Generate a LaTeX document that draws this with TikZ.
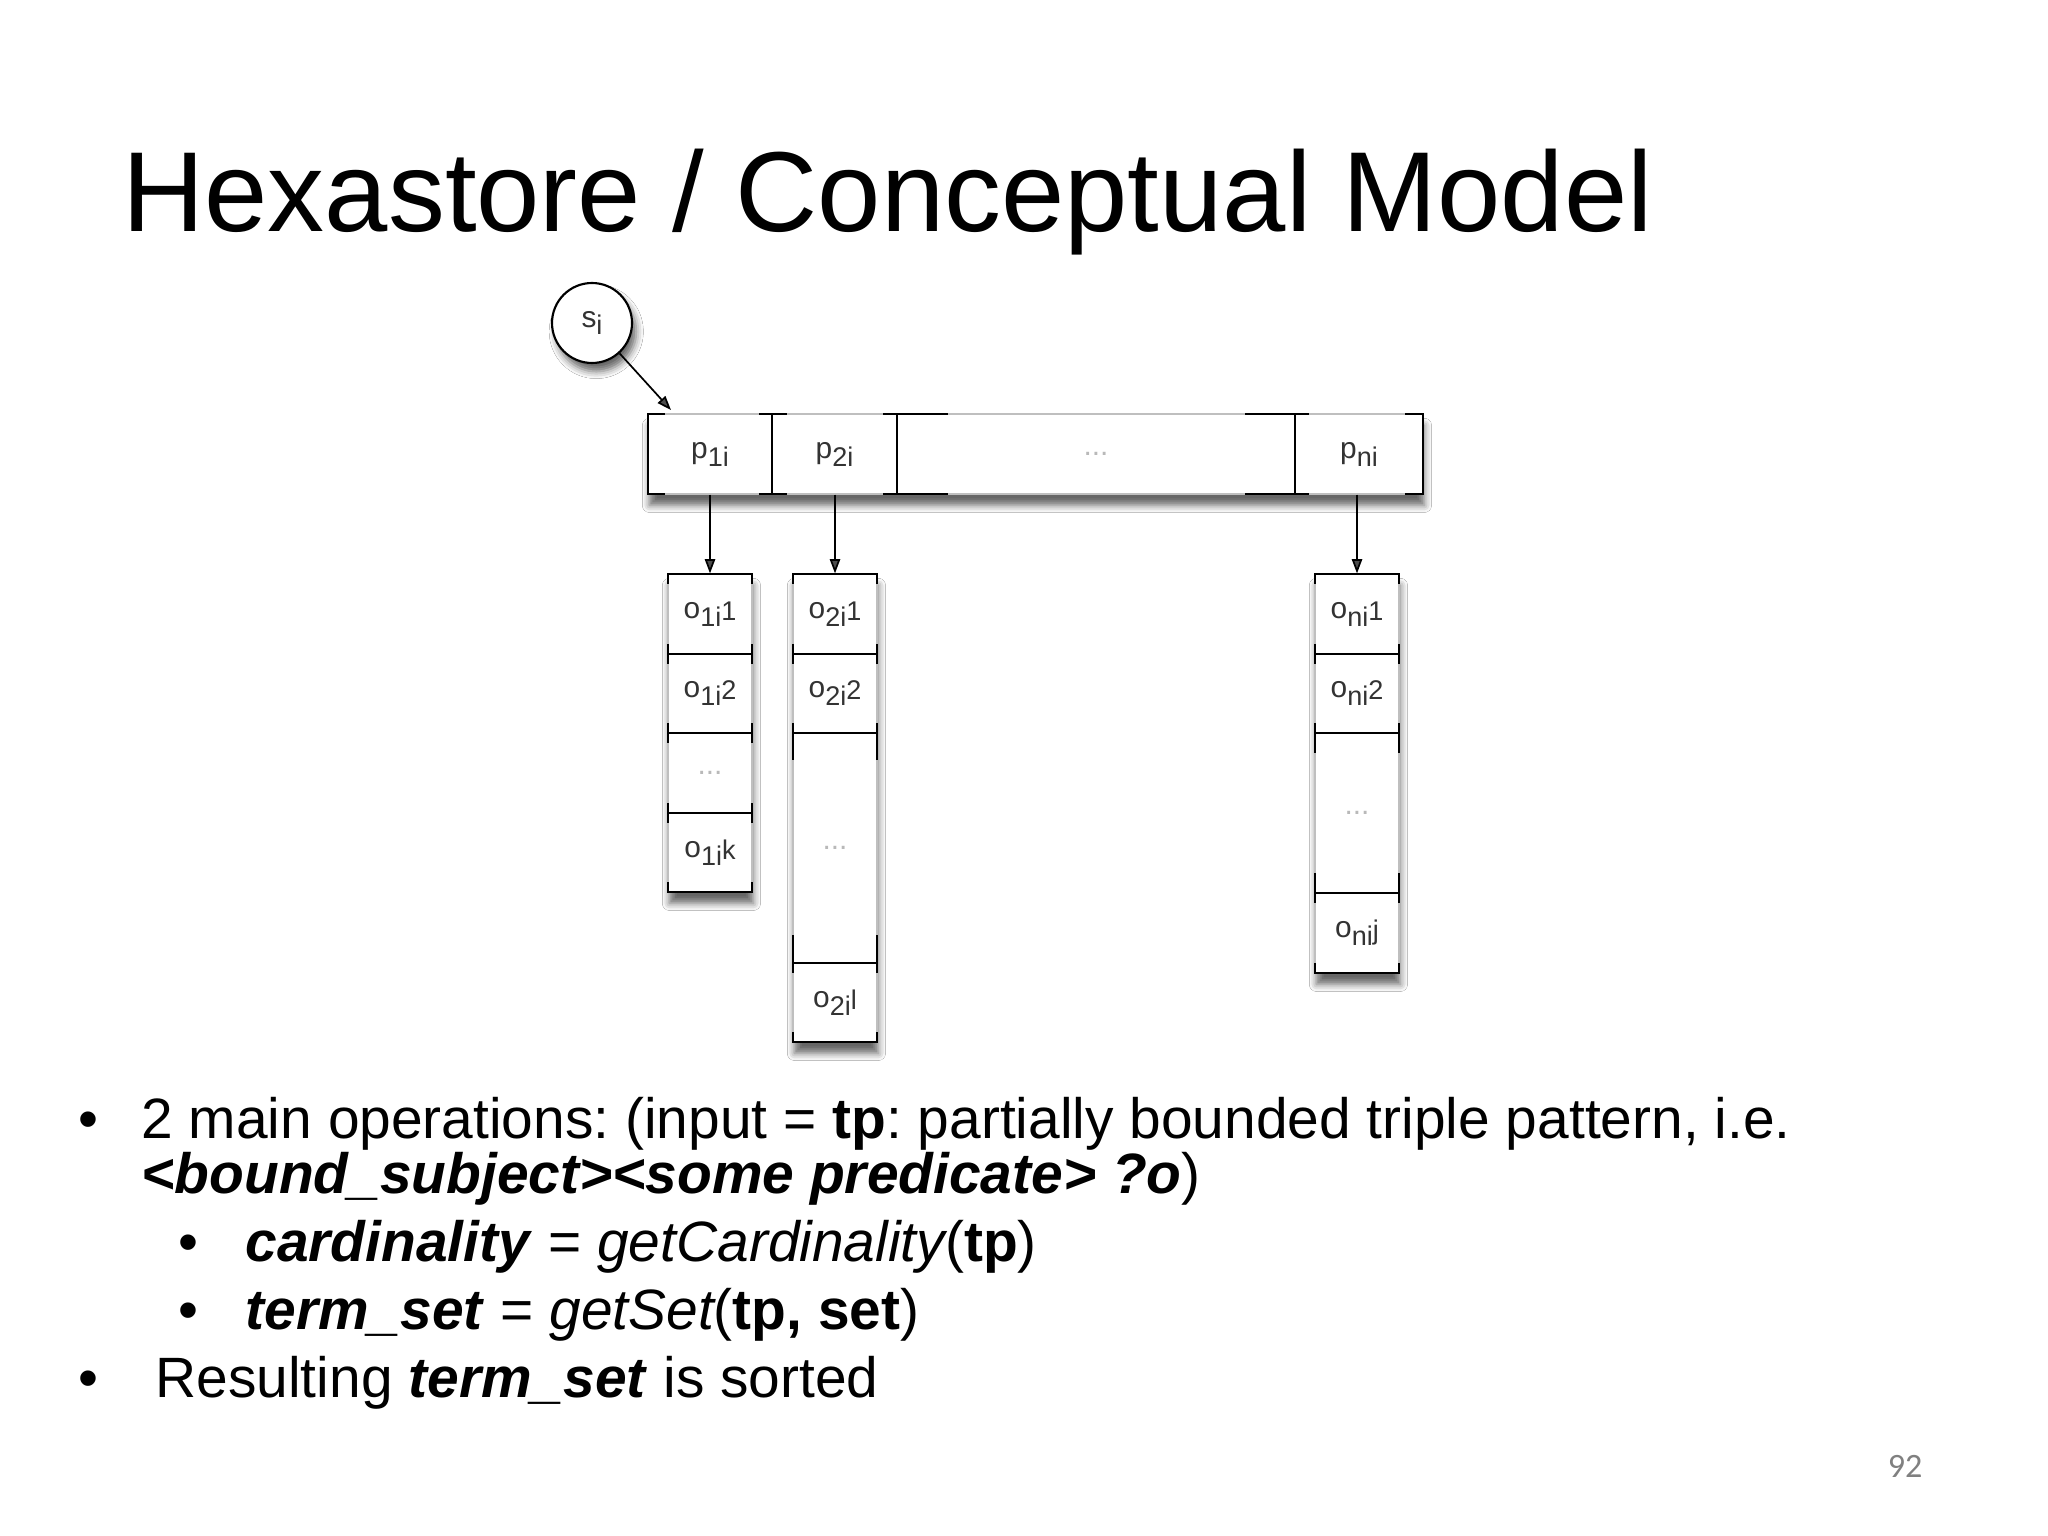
\documentclass[tikz,border=0pt]{standalone}
\usepackage{fontspec}
\setmainfont{Liberation Sans}
\newfontfamily\pagenumfont{Carlito}
\usetikzlibrary{arrows.meta,shadows.blur}

% one pixel of the 2048x1536 slide
\newcommand{\px}{0.3515625pt}
% cell label: letter, lowered index, raised index
\newcommand{\lbl}[3]{#1\raisebox{-2.8pt}{\fontsize{9.5}{10}\selectfont #2}\raisebox{-0.7pt}{\fontsize{9.5}{10}\selectfont #3}}

\tikzset{
  cell/.style={draw=gray!50, inner sep=0pt, text=black!80,
    font=\fontsize{10.5}{12}\selectfont},
  shadowed/.style={fill=white, blur shadow={shadow xshift=0.5pt,
    shadow yshift=-4pt, shadow blur radius=2.5pt, shadow opacity=60}},
  tick/.style={line width=0.75pt},
  arr/.style={-{Triangle[length=5pt,width=3.6pt]}, line width=0.6pt},
  dots/.style={text=gray!55},
  bodytext/.style={anchor=base west, inner sep=0pt,
    font=\fontsize{20}{24}\selectfont},
  bullet/.style={anchor=base, inner sep=0pt,
    font=\fontsize{20}{24}\selectfont}
}

\begin{document}
\frenchspacing
\begin{tikzpicture}[x=0.3515625pt, y=-0.3515625pt]
\fill[white] (0,0) rectangle (2048,1536);
\useasboundingbox (0,0) rectangle (2048,1536);

% title
\node[anchor=base west, inner sep=0pt, font=\fontsize{40}{48}\selectfont]
  (title) at (122,232) {Hexastore / Conceptual Model};

% subject
\node[circle, draw, line width=0.75pt, fill=white, text=black!80,
  minimum size=80*\px, inner sep=0pt, font=\fontsize{10.5}{12}\selectfont,
  blur shadow={shadow xshift=1.5pt, shadow yshift=-3pt, shadow blur radius=2.5pt, shadow opacity=60}]
  (si) at (592,323) {\lbl{s}{i}{}};
\coordinate (sitip) at (671,410);

% predicate row
\path[shadowed] (648,414) rectangle (1423,494);
\node[cell, minimum width=124*\px, minimum height=80*\px] (p1) at (710,454) {\lbl{p}{1i}{}};
\node[cell, minimum width=125*\px, minimum height=80*\px] (p2) at (834.5,454) {\lbl{p}{2i}{}};
\node[cell, dots, minimum width=398*\px, minimum height=80*\px] (pd) at (1096,454) {...};
\node[cell, minimum width=128*\px, minimum height=80*\px] (pn) at (1359,454) {\lbl{p}{ni}{}};

\draw[tick] (665,414) -| (648,494) -- (665,494);
\draw[tick] (1405,414) -| (1423,494) -- (1405,494);
\foreach \x/\l/\r in {772/13/15, 897/14/51, 1295/50/14} {
  \draw[tick] (\x,414) -- (\x,494);
  \draw[tick] (\x-\l,414) -- (\x+\r,414);
  \draw[tick] (\x-\l,494) -- (\x+\r,494);
}

% object lists
\path[shadowed] (668,574) rectangle (752,892);
\path[shadowed] (793,574) rectangle (877,1042);
\path[shadowed] (1315,574) rectangle (1399,973);

\foreach \n/\y/\h/\t in {o1a/614/80/{\lbl{o}{1i}{1}},
                         o1b/693.5/79/{\lbl{o}{1i}{2}},
                         o1c/773/80/{\textcolor{gray!55}{...}},
                         o1d/852.5/79/{\lbl{o}{1i}{k}}}
  \node[cell, minimum width=84*\px, minimum height=\h*\px] (\n) at (710,\y) {\t};

\foreach \n/\y/\h/\t in {o2a/614/80/{\lbl{o}{2i}{1}},
                         o2b/693.5/79/{\lbl{o}{2i}{2}},
                         o2c/848/230/{\textcolor{gray!55}{...}},
                         o2d/1002.5/79/{\lbl{o}{2i}{l}}}
  \node[cell, minimum width=84*\px, minimum height=\h*\px] (\n) at (835,\y) {\t};

\foreach \n/\y/\h/\t in {ona/614/80/{\lbl{o}{ni}{1}},
                         onb/693.5/79/{\lbl{o}{ni}{2}},
                         onc/813/160/{\textcolor{gray!55}{...}},
                         ond/933/80/{\lbl{o}{ni}{j}}}
  \node[cell, minimum width=84*\px, minimum height=\h*\px] (\n) at (1357,\y) {\t};

% column brackets: left/right/top/bottom, then dividers y/up/down
\foreach \L/\R/\T/\B/\divs in {668/752/574/892/{654/10/10,733/10/10,813/10/10},
                               793/877/574/1042/{654/10/10,733/10/27,963/28/10},
                               1315/1399/574/973/{654/10/10,733/10/20,893/20/10}} {
  \draw[tick] (\L,\T+10) -- (\L,\T) -- (\R,\T) -- (\R,\T+10);
  \draw[tick] (\L,\B-10) -- (\L,\B) -- (\R,\B) -- (\R,\B-10);
  \foreach \y/\a/\b in \divs {
    \draw[tick] (\L,\y) -- (\R,\y);
    \draw[tick] (\L,\y-\a) -- (\L,\y+\b);
    \draw[tick] (\R,\y-\a) -- (\R,\y+\b);
  }
}

% pointers
\draw[arr] (si) -- (sitip);
\draw[arr] (o1a.north |- p1.south) -- (o1a.north);
\draw[arr] (o2a.north |- p2.south) -- (o2a.north);
\draw[arr] (ona.north |- pn.south) -- (ona.north);

% bullets
\node[bullet] (b1) at (88,1138) {•};
\node[bodytext] (l1) at (141,1138) {2 main operations: (input = \textbf{tp}: partially bounded triple pattern, i.e.};
\node[bodytext] (l2) at (141,1193) {\textbf{\textit{<bound\_subject><some predicate> ?o}})};
\node[bullet] (b2) at (188,1261) {•};
\node[bodytext] (l3) at (245,1261) {\textbf{\textit{cardinality}} = {\itshape getCardinality}(\textbf{tp})};
\node[bullet] (b3) at (188,1329) {•};
\node[bodytext] (l4) at (245,1329) {\textbf{\textit{term\_set}} = {\itshape getSet}(\textbf{tp, set})};
\node[bullet] (b4) at (88,1397) {•};
\node[bodytext] (l5) at (155,1397) {Resulting \textbf{\textit{term\_set}} is sorted};

% page number
\node[anchor=base east, inner sep=0pt, text=gray,
  font=\pagenumfont\fontsize{12}{14}\selectfont] (pg) at (1923,1477) {92};
\end{tikzpicture}
\end{document}
